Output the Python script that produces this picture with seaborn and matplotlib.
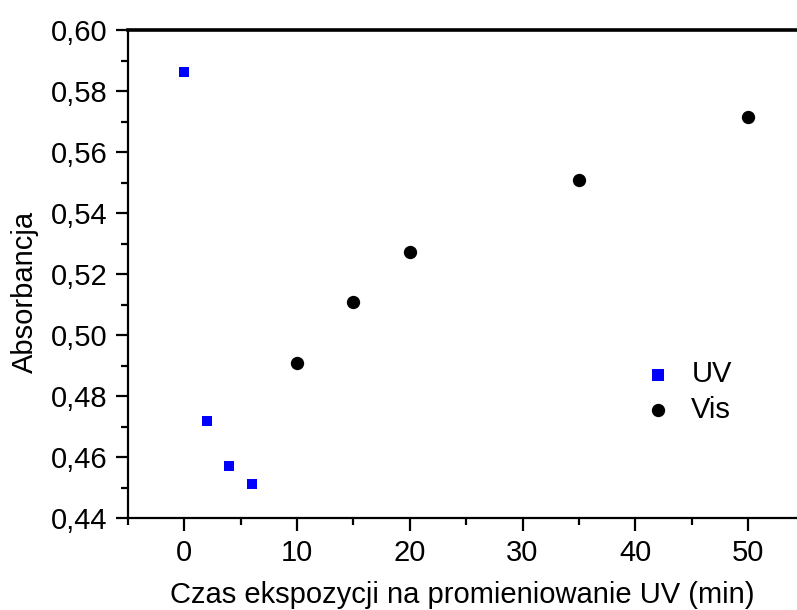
import matplotlib
matplotlib.use("Agg")
import matplotlib.pyplot as plt
from matplotlib.ticker import FuncFormatter, MultipleLocator
import seaborn as sns
import pandas as pd

# Absorbance measurements vs. exposure time
uv_time = [0, 2, 4, 6]
uv_abs = [0.5862, 0.4718, 0.4570, 0.4511]
vis_time = [10, 15, 20, 35, 50]
vis_abs = [0.4908, 0.5108, 0.5272, 0.5508, 0.5715]

uv = pd.DataFrame({"czas": uv_time, "abs": uv_abs})
vis = pd.DataFrame({"czas": vis_time, "abs": vis_abs})

sns.set_style("ticks")
plt.rcParams["font.family"] = ["Liberation Sans", "DejaVu Sans"]
plt.rcParams["text.color"] = "black"
plt.rcParams["axes.labelcolor"] = "black"

SQ_SIZE, DOT_SIZE = 62, 92

fig = plt.figure(figsize=(7.97, 6.10), dpi=100)
ax = fig.add_axes([0.1606, 0.1508, 1 - 0.1606, 0.8000])

sns.scatterplot(data=uv, x="czas", y="abs", marker="s", color="#0000ff",
                s=SQ_SIZE, linewidth=0, label="UV", ax=ax)
sns.scatterplot(data=vis, x="czas", y="abs", marker="o", color="#000000",
                s=DOT_SIZE, linewidth=0, label="Vis", ax=ax)

ax.set_xlim(-5, 54.35)
ax.set_ylim(0.44, 0.60)
ax.xaxis.set_major_locator(MultipleLocator(10))
ax.xaxis.set_minor_locator(MultipleLocator(5))
ax.yaxis.set_major_locator(MultipleLocator(0.02))
ax.yaxis.set_minor_locator(MultipleLocator(0.01))
ax.yaxis.set_major_formatter(FuncFormatter(lambda v, p: f"{v:.2f}".replace(".", ",")))
ax.xaxis.set_major_formatter(FuncFormatter(lambda v, p: f"{v:.0f}"))

ax.tick_params(which="major", length=9, width=1.6, labelsize=21, color="black",
               labelcolor="black", pad=6)
ax.tick_params(which="minor", length=5, width=1.6, color="black")
ax.tick_params(top=False, right=False)

for side in ["left", "bottom"]:
    ax.spines[side].set_linewidth(1.6)
    ax.spines[side].set_color("black")
ax.spines["top"].set_linewidth(2.6)
ax.spines["top"].set_color("black")
ax.spines["right"].set_visible(False)

ax.set_xlabel("Czas ekspozycji na promieniowanie UV (min)", fontsize=21, labelpad=10)
ax.set_ylabel("Absorbancja", fontsize=21)
ax.yaxis.set_label_coords(-0.133, 0.463)

leg = ax.legend(loc="center left", bbox_to_anchor=(0.709, 0.258),
                frameon=False, fontsize=21, handletextpad=0.15, labelspacing=0.25)
for h, s in zip(leg.legend_handles, [78, DOT_SIZE]):
    h.set_sizes([s])

fig.savefig("out.png", dpi=100)
